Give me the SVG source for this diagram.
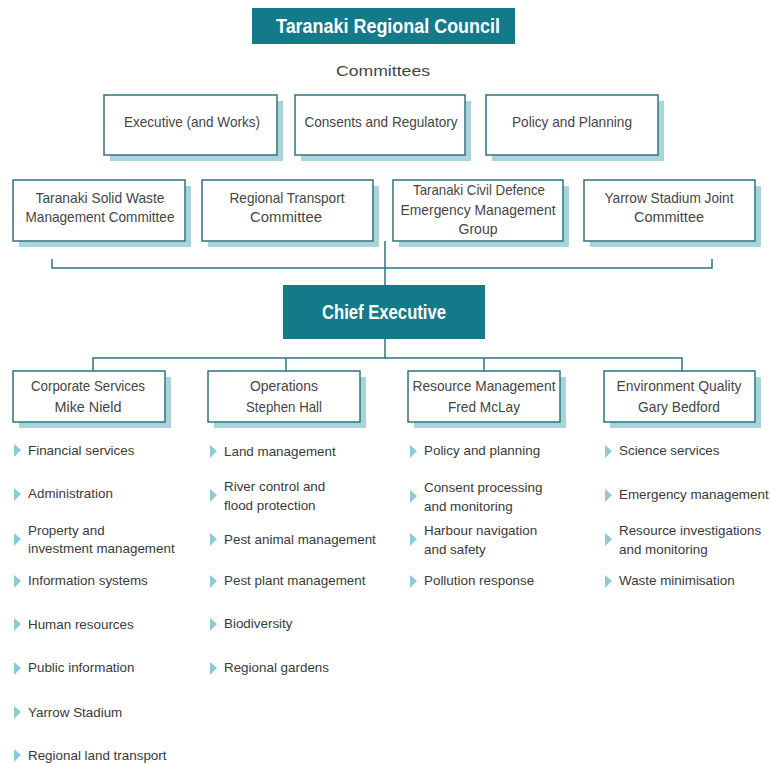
<svg xmlns="http://www.w3.org/2000/svg" width="770" height="764" viewBox="0 0 770 764">
<defs>
<style>
.box{fill:#ffffff;stroke:#2e7480;stroke-width:1.5}
.shadow{fill:#a9d5da}
.bt{font-family:"Liberation Sans",Arial,sans-serif;font-size:15px;fill:#454545;text-anchor:middle}
.head{fill:#137a8a}
.ht{font-family:"Liberation Sans",Arial,sans-serif;font-weight:bold;fill:#ffffff;text-anchor:middle}
.conn{fill:none;stroke:#2e7480;stroke-width:1.5}
.li{font-family:"Liberation Sans",Arial,sans-serif;font-size:13.4px;fill:#3a3a3a}
.tri{fill:#8ccad6}
</style>
</defs>
<rect width="770" height="764" fill="#ffffff"/>

<g id="council">
<rect class="head" x="252" y="8" width="263" height="36"/>
<text class="ht" x="388" y="33" font-size="21" textLength="224" lengthAdjust="spacingAndGlyphs">Taranaki Regional Council</text>
</g>
<g id="committees-label">
<text class="bt" x="383" y="76" font-size="17" textLength="94" lengthAdjust="spacingAndGlyphs">Committees</text>
</g>

<g id="connectors">
<path class="conn" d="M52,259 V268 H712 V259"/>
<path class="conn" d="M385,241 V285"/>
<path class="conn" d="M385,339 V358"/>
<path class="conn" d="M93,371 V358 H682 V371"/>
<path class="conn" d="M286,358 V371"/>
<path class="conn" d="M484,358 V371"/>
</g>

<g id="executive">
<rect class="shadow" x="110" y="101" width="173" height="60"/>
<rect class="box" x="104" y="95" width="173" height="60"/>
<text class="bt" x="192" y="127" textLength="136" lengthAdjust="spacingAndGlyphs">Executive (and Works)</text>
</g>
<g id="consents">
<rect class="shadow" x="301" y="101" width="170" height="60"/>
<rect class="box" x="295" y="95" width="170" height="60"/>
<text class="bt" x="381" y="127" textLength="153" lengthAdjust="spacingAndGlyphs">Consents and Regulatory</text>
</g>
<g id="policy">
<rect class="shadow" x="492" y="101" width="172" height="60"/>
<rect class="box" x="486" y="95" width="172" height="60"/>
<text class="bt" x="572" y="127" textLength="120" lengthAdjust="spacingAndGlyphs">Policy and Planning</text>
</g>

<g id="solid-waste">
<rect class="shadow" x="19" y="186" width="172" height="61"/>
<rect class="box" x="13" y="180" width="172" height="61"/>
<text class="bt" x="100" y="203" textLength="129" lengthAdjust="spacingAndGlyphs">Taranaki Solid Waste</text>
<text class="bt" x="100" y="222" textLength="149" lengthAdjust="spacingAndGlyphs">Management Committee</text>
</g>
<g id="transport">
<rect class="shadow" x="208" y="186" width="171" height="61"/>
<rect class="box" x="202" y="180" width="171" height="61"/>
<text class="bt" x="287" y="203" textLength="115" lengthAdjust="spacingAndGlyphs">Regional Transport</text>
<text class="bt" x="286" y="222" textLength="72" lengthAdjust="spacingAndGlyphs">Committee</text>
</g>
<g id="civil-defence">
<rect class="shadow" x="399" y="186" width="170" height="61"/>
<rect class="box" x="393" y="180" width="170" height="61"/>
<text class="bt" x="479" y="195" textLength="132" lengthAdjust="spacingAndGlyphs">Taranaki Civil Defence</text>
<text class="bt" x="478" y="215" textLength="155" lengthAdjust="spacingAndGlyphs">Emergency Management</text>
<text class="bt" x="478" y="234" textLength="39" lengthAdjust="spacingAndGlyphs">Group</text>
</g>
<g id="yarrow">
<rect class="shadow" x="590" y="186" width="171" height="61"/>
<rect class="box" x="584" y="180" width="171" height="61"/>
<text class="bt" x="669" y="203" textLength="129" lengthAdjust="spacingAndGlyphs">Yarrow Stadium Joint</text>
<text class="bt" x="669" y="222" textLength="70" lengthAdjust="spacingAndGlyphs">Committee</text>
</g>

<g id="chief">
<rect class="head" x="283" y="285" width="202" height="54"/>
<text class="ht" x="384" y="319" font-size="20" textLength="124" lengthAdjust="spacingAndGlyphs">Chief Executive</text>
</g>

<g id="corporate">
<rect class="shadow" x="19" y="377" width="152" height="51"/>
<rect class="box" x="13" y="371" width="152" height="51"/>
<text class="bt" x="88" y="391" textLength="114" lengthAdjust="spacingAndGlyphs">Corporate Services</text>
<text class="bt" x="88" y="412" textLength="67" lengthAdjust="spacingAndGlyphs">Mike Nield</text>
</g>
<g id="operations">
<rect class="shadow" x="214" y="377" width="152" height="51"/>
<rect class="box" x="208" y="371" width="152" height="51"/>
<text class="bt" x="284" y="391" textLength="68" lengthAdjust="spacingAndGlyphs">Operations</text>
<text class="bt" x="284" y="412" textLength="76" lengthAdjust="spacingAndGlyphs">Stephen Hall</text>
</g>
<g id="resource">
<rect class="shadow" x="414" y="377" width="152" height="51"/>
<rect class="box" x="408" y="371" width="152" height="51"/>
<text class="bt" x="484" y="391" textLength="143" lengthAdjust="spacingAndGlyphs">Resource Management</text>
<text class="bt" x="484" y="412" textLength="72" lengthAdjust="spacingAndGlyphs">Fred McLay</text>
</g>
<g id="environment">
<rect class="shadow" x="610" y="377" width="151" height="51"/>
<rect class="box" x="604" y="371" width="151" height="51"/>
<text class="bt" x="679" y="391" textLength="125" lengthAdjust="spacingAndGlyphs">Environment Quality</text>
<text class="bt" x="679" y="412" textLength="82" lengthAdjust="spacingAndGlyphs">Gary Bedford</text>
</g>

<g id="corporate-list">
<path class="tri" d="M14,444 L21,450 L14,457 Z"/><text class="li" x="28" y="455">Financial services</text>
<path class="tri" d="M14,488 L21,494 L14,501 Z"/><text class="li" x="28" y="498">Administration</text>
<path class="tri" d="M14,533 L21,539 L14,546 Z"/><text class="li" x="28" y="535">Property and</text><text class="li" x="28" y="553">investment management</text>
<path class="tri" d="M14,575 L21,581 L14,588 Z"/><text class="li" x="28" y="585">Information systems</text>
<path class="tri" d="M14,618 L21,624 L14,631 Z"/><text class="li" x="28" y="629">Human resources</text>
<path class="tri" d="M14,662 L21,668 L14,675 Z"/><text class="li" x="28" y="672">Public information</text>
<path class="tri" d="M14,706 L21,712 L14,719 Z"/><text class="li" x="28" y="717">Yarrow Stadium</text>
<path class="tri" d="M14,749 L21,755 L14,762 Z"/><text class="li" x="28" y="760">Regional land transport</text>
</g>

<g id="operations-list">
<path class="tri" d="M210,445 L217,451 L210,458 Z"/><text class="li" x="224" y="456">Land management</text>
<path class="tri" d="M210,489 L217,495 L210,502 Z"/><text class="li" x="224" y="491">River control and</text><text class="li" x="224" y="510">flood protection</text>
<path class="tri" d="M210,533 L217,539 L210,546 Z"/><text class="li" x="224" y="544">Pest animal management</text>
<path class="tri" d="M210,575 L217,581 L210,588 Z"/><text class="li" x="224" y="585">Pest plant management</text>
<path class="tri" d="M210,618 L217,624 L210,631 Z"/><text class="li" x="224" y="628">Biodiversity</text>
<path class="tri" d="M210,662 L217,668 L210,675 Z"/><text class="li" x="224" y="672">Regional gardens</text>
</g>

<g id="resource-list">
<path class="tri" d="M410,445 L417,451 L410,458 Z"/><text class="li" x="424" y="455">Policy and planning</text>
<path class="tri" d="M410,490 L417,496 L410,503 Z"/><text class="li" x="424" y="492">Consent processing</text><text class="li" x="424" y="511">and monitoring</text>
<path class="tri" d="M410,533 L417,539 L410,546 Z"/><text class="li" x="424" y="535">Harbour navigation</text><text class="li" x="424" y="554">and safety</text>
<path class="tri" d="M410,575 L417,581 L410,588 Z"/><text class="li" x="424" y="585">Pollution response</text>
</g>

<g id="environment-list">
<path class="tri" d="M605,445 L612,451 L605,458 Z"/><text class="li" x="619" y="455">Science services</text>
<path class="tri" d="M605,489 L612,495 L605,502 Z"/><text class="li" x="619" y="499">Emergency management</text>
<path class="tri" d="M605,533 L612,539 L605,546 Z"/><text class="li" x="619" y="535">Resource investigations</text><text class="li" x="619" y="554">and monitoring</text>
<path class="tri" d="M605,575 L612,581 L605,588 Z"/><text class="li" x="619" y="585">Waste minimisation</text>
</g>
</svg>
